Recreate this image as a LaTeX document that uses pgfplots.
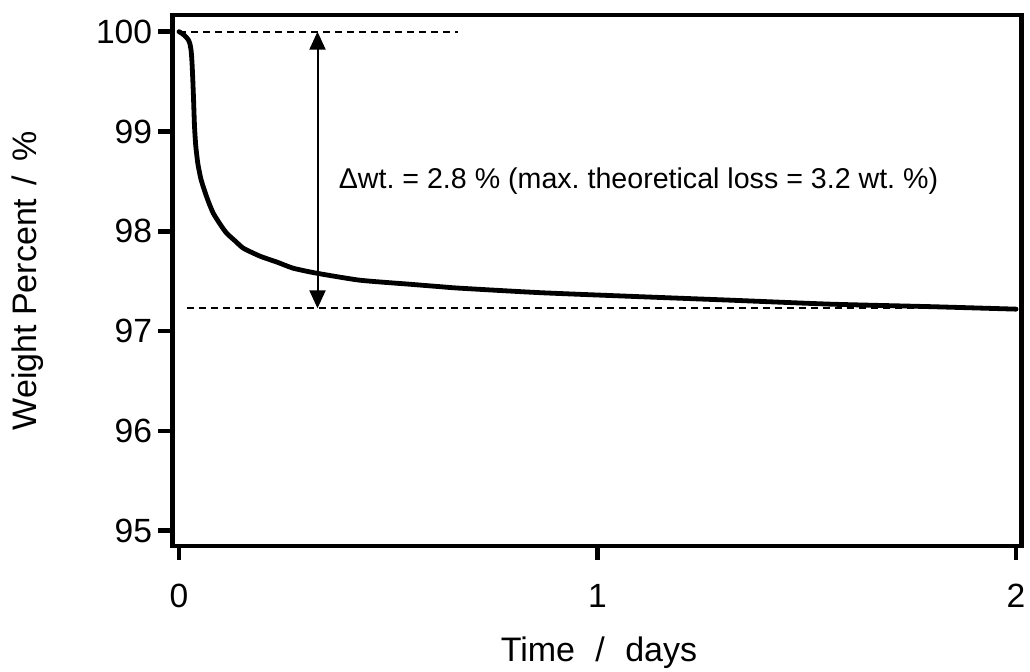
\documentclass[border=0pt]{standalone}
\usepackage{pgfplots}
\pgfplotsset{compat=1.18}
\usepackage{fontspec}
\setmainfont{Liberation Sans}
\usetikzlibrary{arrows.meta}
\frenchspacing
\begin{document}
\begin{tikzpicture}
\useasboundingbox (-86.25pt,-62.5pt) rectangle (428.75pt,273pt);
\begin{axis}[
  at={(0pt,0pt)}, anchor=south west,
  scale only axis, width=424.5pt, height=265.5pt,
  xmin=-0.0155, xmax=2.013, ymin=94.847, ymax=100.167,
  xtick={0,1,2}, ytick={95,96,97,98,99,100},
  xtick pos=bottom, ytick pos=left,
  tick align=outside, major tick length=7pt,
  every tick/.style={black, line width=2.25pt},
  axis line style={line width=2.25pt},
  /pgf/number format/assume math mode=true,
  tick label style={font=\fontsize{16.8}{19}\selectfont, inner sep=0pt},
  xticklabel style={anchor=north, yshift=-12pt},
  yticklabel style={anchor=east, xshift=-3pt},
  every axis x label/.style={at={(axis description cs:0.5023,-0.2015)}, anchor=center},
  every axis y label/.style={at={(axis description cs:-0.1708,0.499)}, rotate=90, anchor=center},
  label style={font=\fontsize{17}{20}\selectfont, inner sep=0pt},
  xlabel={Time\hspace{0.6em}/\hspace{0.6em}days},
  ylabel={Weight Percent\hspace{0.4em}/\hspace{0.4em}\%},
  clip=false,
]
\addplot[black, line width=2.4pt, line join=round, line cap=round, smooth, tension=0.35] coordinates {
(0,100) (0.008,99.98) (0.016,99.95) (0.022,99.92) (0.026,99.88) (0.029,99.81)
(0.031,99.70) (0.033,99.52) (0.035,99.30) (0.037,99.06) (0.040,98.86)
(0.045,98.68) (0.052,98.53) (0.060,98.42) (0.070,98.30) (0.082,98.18)
(0.100,98.06) (0.114,97.98) (0.135,97.90) (0.154,97.83) (0.194,97.75)
(0.235,97.69) (0.273,97.63) (0.329,97.58) (0.432,97.51) (0.55,97.47)
(0.624,97.445) (0.671,97.43) (0.863,97.385) (1.10,97.345) (1.317,97.31)
(1.556,97.27) (1.795,97.245) (2.0,97.22)
};
\addplot[black, line width=0.9pt, dash pattern=on 3.6pt off 2.4pt] coordinates {(0,100) (0.667,100)};
\addplot[black, line width=0.9pt, dash pattern=on 3.6pt off 2.4pt] coordinates {(0.018,97.228) (2.0,97.228)};
\addplot[black, line width=1pt, {Triangle[width=8pt,length=9pt]}-{Triangle[width=8pt,length=9pt]}] coordinates {(0.331,100) (0.331,97.228)};
\node[anchor=base west, inner sep=0pt, font=\fontsize{14.3}{17}\selectfont] at (axis cs:0.381,98.431) {Δwt. = 2.8 \% (max. theoretical loss = 3.2 wt. \%)};
\end{axis}
\end{tikzpicture}
\end{document}
